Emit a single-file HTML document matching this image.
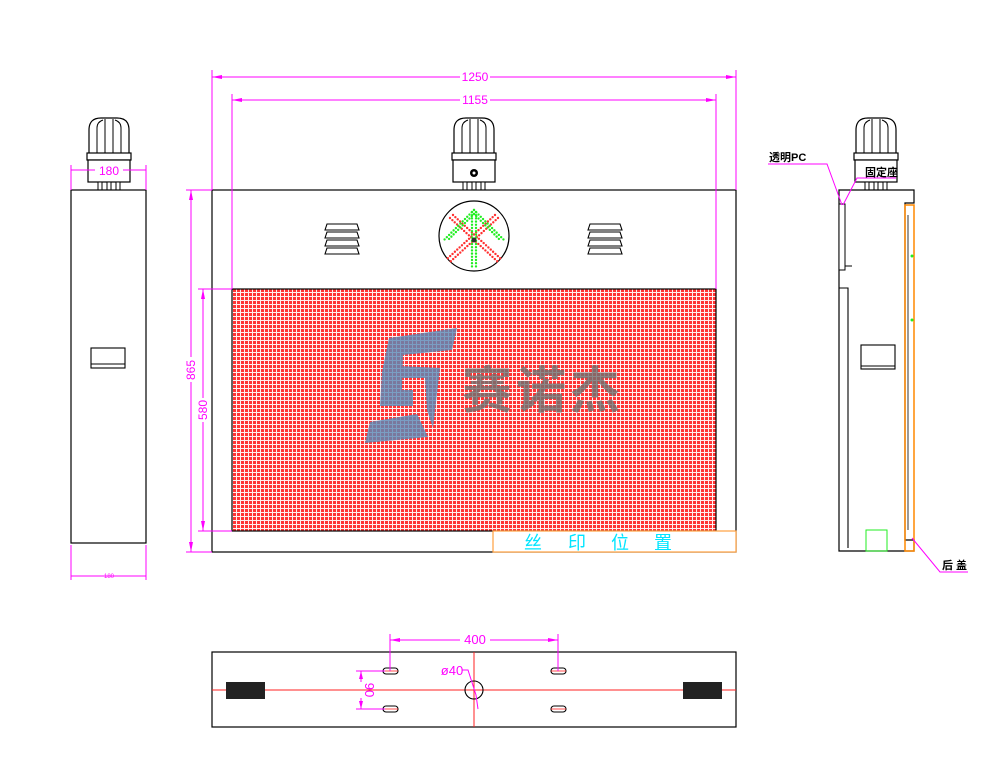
<!DOCTYPE html>
<html><head><meta charset="utf-8"><style>
html,body{margin:0;padding:0;background:#fff;}
svg{display:block;font-family:"Liberation Sans","Noto Sans CJK SC",sans-serif;}
</style></head><body>
<svg width="1000" height="772" viewBox="0 0 1000 772" xmlns="http://www.w3.org/2000/svg">
<defs>
<pattern id="grid" width="4" height="4" patternUnits="userSpaceOnUse" shape-rendering="crispEdges">
<rect width="4" height="4" fill="#ff3434"/>
<rect x="0" y="0" width="1" height="4" fill="#fff0f0"/>
<rect x="0" y="0" width="4" height="1" fill="#fff0f0"/>
</pattern>
<g id="lamp">
<path d="M-20,32 L-20,8 Q-20,-4 -8,-4 L8,-4 Q20,-4 20,8 L20,32" fill="#fff" stroke="#000" stroke-width="1.2"/>
<path d="M-12,32 L-12,6 Q-12,0 -6,-2 M-4,32 L-4,-3 M4,32 L4,-3 M12,32 L12,6 Q12,0 6,-2" fill="none" stroke="#000" stroke-width="1"/>
<rect x="-22" y="31" width="44" height="7" fill="#fff" stroke="#000" stroke-width="1.2"/>
<rect x="-21" y="38" width="42" height="22" fill="#fff" stroke="#000" stroke-width="1.2"/>
<rect x="-11" y="60" width="4" height="8" fill="#fff" stroke="#000" stroke-width="1"/>
<rect x="-2" y="60" width="4" height="8" fill="#fff" stroke="#000" stroke-width="1"/>
<rect x="7" y="60" width="4" height="8" fill="#fff" stroke="#000" stroke-width="1"/>
</g>
<g id="vent" fill="#fff" stroke="#000" stroke-width="1.1">
<path d="M0,6 L2,0 H32 L34,6 Z"/>
<path d="M0,14 L2,8 H32 L34,14 Z"/>
<path d="M0,22 L2,16 H32 L34,22 Z"/>
<path d="M0,30 L2,24 H32 L34,30 Z"/>
</g>
</defs>

<!-- LEFT VIEW -->
<use href="#lamp" transform="translate(109,122)"/>
<rect x="71" y="190" width="75" height="353" fill="#fff" stroke="#000" stroke-width="1.2"/>
<rect x="91" y="348" width="34" height="20" fill="#fff" stroke="#000" stroke-width="1.1"/>
<line x1="91" y1="364" x2="125" y2="364" stroke="#000" stroke-width="1"/>
<g stroke="#ff00ff" stroke-width="1" fill="none">
<line x1="71" y1="165" x2="71" y2="190"/><line x1="146" y1="165" x2="146" y2="190"/>
<line x1="71" y1="170" x2="95" y2="170"/><line x1="123" y1="170" x2="146" y2="170"/>
<line x1="71" y1="545" x2="71" y2="580"/><line x1="146" y1="545" x2="146" y2="580"/>
<line x1="71" y1="576" x2="146" y2="576"/>
</g>
<text x="109" y="175" font-size="12" fill="#ff00ff" text-anchor="middle">180</text>
<text x="109" y="578" font-size="6" fill="#ff00ff" text-anchor="middle">180</text>

<!-- FRONT VIEW -->
<use href="#lamp" transform="translate(474,122)"/>
<circle cx="474" cy="173" r="4" fill="#000"/><circle cx="474" cy="173" r="1.5" fill="#fff"/>
<rect x="212" y="190" width="524" height="362" fill="#fff" stroke="#000" stroke-width="1.2"/>
<rect x="232" y="289" width="484" height="242" fill="url(#grid)" stroke="#000" stroke-width="1.2"/>
<rect x="493" y="531" width="243" height="21" fill="#fff" stroke="#ffa040" stroke-width="1.2"/>
<g font-size="18" fill="#00e5ff" font-family="Liberation Sans,Noto Sans CJK SC,sans-serif">
<text x="524" y="549">丝</text><text x="568" y="549">印</text><text x="611" y="549">位</text><text x="654" y="549">置</text>
</g>
<use href="#vent" transform="translate(325,224)"/>
<use href="#vent" transform="translate(588,224)"/>
<circle cx="474" cy="236" r="35" fill="#fff" stroke="#000" stroke-width="1.2"/>
<g stroke-linecap="round" fill="none" stroke-width="2.4" stroke-dasharray="0 3.2">
<g stroke="#ff3030">
<line x1="450" y1="218" x2="498" y2="262"/><line x1="453" y1="215" x2="501" y2="259"/>
<line x1="498" y1="218" x2="450" y2="262"/><line x1="495" y1="215" x2="447" y2="259"/>
</g>
<g stroke="#22ee22">
<line x1="474" y1="210" x2="444" y2="240"/><line x1="474" y1="214" x2="447" y2="241"/>
<line x1="474" y1="210" x2="504" y2="240"/><line x1="474" y1="214" x2="501" y2="241"/>
<line x1="472" y1="212" x2="472" y2="268"/><line x1="476" y1="212" x2="476" y2="268"/>
</g>
</g>
<circle cx="474" cy="240" r="2.5" fill="#333"/>
<!-- logo -->
<g fill="#5a8ab8" opacity="0.8">
<polygon points="389,338 457,328 452,350 403,355 402,390 413,390 413,406 380,406 382,372"/>
<polygon points="400,366 440,368 433,428 427,410 425,378 401,378"/>
<polygon points="370,422 417,414 428,437 365,443"/>
</g>
<text x="462" y="408" font-size="50" font-weight="bold" fill="#707070" opacity="0.8" font-family="Noto Sans CJK SC,sans-serif" letter-spacing="4">赛诺杰</text>

<g stroke="#ff00ff" stroke-width="1" fill="none">
<line x1="212" y1="70" x2="212" y2="190"/><line x1="736" y1="70" x2="736" y2="190"/>
<line x1="212" y1="77" x2="460" y2="77"/><line x1="490" y1="77" x2="736" y2="77"/>
<line x1="232" y1="94" x2="232" y2="289"/><line x1="716" y1="94" x2="716" y2="289"/>
<line x1="232" y1="100" x2="460" y2="100"/><line x1="490" y1="100" x2="716" y2="100"/>
<line x1="186" y1="190" x2="212" y2="190"/><line x1="186" y1="552" x2="212" y2="552"/>
<line x1="191" y1="190" x2="191" y2="357"/><line x1="191" y1="382" x2="191" y2="552"/>
<line x1="198" y1="289" x2="232" y2="289"/><line x1="198" y1="531" x2="232" y2="531"/>
<line x1="203" y1="289" x2="203" y2="398"/><line x1="203" y1="422" x2="203" y2="531"/>
</g>
<g fill="#ff00ff">
<polygon points="212,77 222,75 222,79"/><polygon points="736,77 726,75 726,79"/>
<polygon points="232,100 242,98 242,102"/><polygon points="716,100 706,98 706,102"/>
<polygon points="191,190 189,200 193,200"/><polygon points="191,552 189,542 193,542"/>
<polygon points="203,289 201,299 205,299"/><polygon points="203,531 201,521 205,521"/>
</g>
<g font-size="12" fill="#ff00ff" text-anchor="middle">
<text x="475" y="81">1250</text><text x="475" y="104">1155</text>
<text transform="translate(195,370) rotate(-90)">865</text>
<text transform="translate(207,410) rotate(-90)">580</text>
</g>

<!-- SIDE VIEW -->
<use href="#lamp" transform="translate(876,122)"/>
<path d="M839,190 H914 V203 H905 V540 H914 V551 H839 Z" fill="#fff" stroke="#000" stroke-width="1.2"/>
<polyline points="839,288 848,288 848,548" fill="none" stroke="#000" stroke-width="1.1"/>
<rect x="839" y="204" width="6" height="66" fill="#fff" stroke="#000" stroke-width="1"/>
<line x1="845" y1="266" x2="852" y2="266" stroke="#000" stroke-width="1"/>
<rect x="905" y="205" width="9" height="346" fill="none" stroke="#ff8800" stroke-width="1.5"/>
<line x1="908" y1="215" x2="908" y2="530" stroke="#000" stroke-width="0.8"/>
<rect x="861" y="345" width="34" height="24" fill="#fff" stroke="#000" stroke-width="1.1"/>
<line x1="861" y1="366" x2="895" y2="366" stroke="#000" stroke-width="1"/>
<rect x="866" y="530" width="21" height="21" fill="none" stroke="#22ee22" stroke-width="1"/>
<circle cx="912" cy="256" r="1.5" fill="#22ee22"/><circle cx="912" cy="320" r="1.5" fill="#22ee22"/>
<g stroke="#ff00ff" stroke-width="1" fill="none">
<polyline points="768,164 827,164 842,205"/>
<polyline points="843,205 857,178 896,178"/>
<polyline points="912,538 940,572 968,572"/>
</g>
<g font-size="11" font-weight="bold" fill="#000">
<text x="769" y="161">透明PC</text><text x="865" y="176">固定座</text><text x="942" y="569">后 盖</text>
</g>

<!-- BOTTOM VIEW -->
<rect x="212" y="652" width="524" height="75" fill="#fff" stroke="#000" stroke-width="1.2"/>
<g stroke="#ff2020" stroke-width="1">
<line x1="212" y1="690" x2="736" y2="690"/><line x1="474" y1="652" x2="474" y2="727"/>
</g>
<rect x="226" y="682" width="39" height="17" fill="#222"/>
<rect x="683" y="682" width="39" height="17" fill="#222"/>
<g fill="#fff" stroke="#000" stroke-width="1.1">
<rect x="383" y="668" width="15" height="6" rx="3"/><rect x="383" y="706" width="15" height="6" rx="3"/>
<rect x="551" y="668" width="15" height="6" rx="3"/><rect x="551" y="706" width="15" height="6" rx="3"/>
</g>
<circle cx="474" cy="690" r="9" fill="none" stroke="#000" stroke-width="1.1"/>
<g stroke="#ff2020" stroke-width="0.8"><line x1="383" y1="671" x2="398" y2="671"/><line x1="383" y1="709" x2="398" y2="709"/><line x1="551" y1="671" x2="566" y2="671"/><line x1="551" y1="709" x2="566" y2="709"/></g>
<g stroke="#ff00ff" stroke-width="1" fill="none">
<line x1="390" y1="634" x2="390" y2="671"/><line x1="558" y1="634" x2="558" y2="671"/>
<line x1="390" y1="640" x2="460" y2="640"/><line x1="490" y1="640" x2="558" y2="640"/>
<line x1="356" y1="671" x2="385" y2="671"/><line x1="356" y1="709" x2="385" y2="709"/>
<line x1="361" y1="671" x2="361" y2="682"/><line x1="361" y1="698" x2="361" y2="709"/>
<polyline points="462,670 468,670 476,695 478,709"/>
</g>
<g fill="#ff00ff">
<polygon points="390,640 400,638 400,642"/><polygon points="558,640 548,638 548,642"/>
<polygon points="361,671 359,679 363,679"/><polygon points="361,709 359,701 363,701"/>
</g>
<g font-size="13" fill="#ff00ff" text-anchor="middle">
<text x="475" y="644">400</text>
<text transform="translate(365,690) rotate(90)">90</text>
<text x="452" y="675">ø40</text>
</g>
</svg>
</body></html>
